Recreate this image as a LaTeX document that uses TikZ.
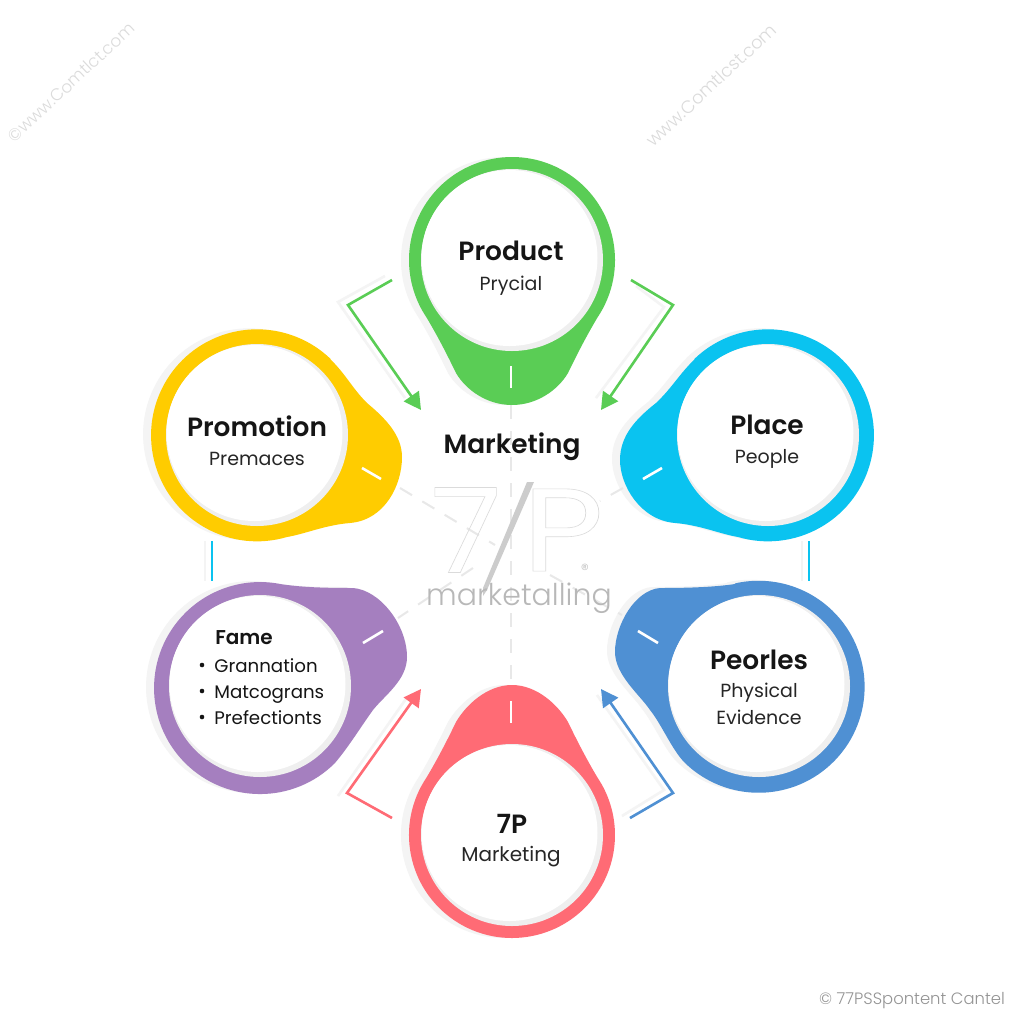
\documentclass[tikz,border=0pt]{standalone}
\usepackage{fontspec}
\setmainfont{Poppins}[BoldFont={Poppins SemiBold}]
\newfontfamily\lightf{Poppins Light}
\usetikzlibrary{arrows.meta}
\definecolor{cgreen}{HTML}{5ACD55}
\definecolor{ccyan}{HTML}{0AC3F0}
\definecolor{cyellow}{HTML}{FFCC00}
\definecolor{cpurple}{HTML}{A57FBF}
\definecolor{cblue}{HTML}{4F90D3}
\definecolor{cred}{HTML}{FF6B75}
\definecolor{halo}{HTML}{F4F4F4}
\definecolor{crescent}{HTML}{EFEFEF}
\definecolor{ink}{HTML}{151515}
\definecolor{sub}{HTML}{262626}
\tikzset{
  title/.style={font=\bfseries\fontsize{13.2}{15}\selectfont,text=ink,inner sep=0pt,anchor=base},
  subt/.style={font=\fontsize{9.5}{11}\selectfont,text=sub,inner sep=0pt,anchor=base},
  item/.style={font=\fontsize{9.1}{11}\selectfont,text=ink,inner sep=0pt,anchor=base west},
  conn/.style={line width=1.3pt,-{Triangle[length=8.5pt,width=9pt]}},
  connhalo/.style={line width=1.3pt,halo},
  dashline/.style={line width=1pt,draw=black!9,dash pattern=on 7pt off 6pt},
  tick/.style={line width=1.3pt,white},
  wm/.style={text=black!14,inner sep=0pt,rotate=43},
  logo/.style={inner sep=0pt,text=black!14,font=\fontsize{59}{59}\selectfont}
}
% symmetric droplet, tip along local +x, tip distance #1
\newcommand{\dropshape}[1]{(57.6,85.4) .. controls (70,78) and (88,68) .. (113,56) .. controls (130,46) and (#1,25) .. (#1,0) .. controls (#1,-25) and (130,-46) .. (113,-56) .. controls (88,-68) and (70,-78) .. (57.6,-85.4) arc[start angle=-56,end angle=-304,radius=103] -- cycle}
\newcommand{\shapeYellow}{(330,359) .. controls (345,373) and (352,388) .. (367,403) .. controls (385,418) and (402,435) .. (402,457) .. controls (402,485) and (385,520) .. (350,523) .. controls (325,525) and (305,534) .. (287,537) arc[start angle=73.6,end angle=314,radius=106] -- cycle}
\newcommand{\shapeCyan}{(695,359) .. controls (680,373) and (672,388) .. (656,403) .. controls (637,418) and (620,435) .. (620,460) .. controls (620,485) and (640,520) .. (675,523) .. controls (700,525) and (720,534) .. (738,537) arc[start angle=106.4,end angle=-134,radius=106] -- cycle}
\newcommand{\shapePurple}{(280,584) .. controls (300,587) and (320,588) .. (353,588) .. controls (380,590) and (407,625) .. (407,657) .. controls (407,680) and (385,695) .. (373,710) .. controls (360,728) and (350,745) .. (335,763) arc[start angle=45,end angle=281,radius=106] -- cycle}
\newcommand{\shapeBlue}{(735,584) .. controls (715,587) and (690,588) .. (660,588) .. controls (635,590) and (615,625) .. (615,652) .. controls (615,675) and (640,695) .. (650,710) .. controls (662,725) and (672,750) .. (685,763) arc[start angle=134,end angle=-103,radius=106] -- cycle}
\newcommand{\eye}[2]{\fill[crescent] (#1,#2) circle[radius=91];\fill[white] (#1-2.5,#2-2) circle[radius=88];}
\begin{document}
\begin{tikzpicture}[x=0.5pt,y=-0.5pt]
\useasboundingbox (0,0) rectangle (1024,1024);
\fill[white] (0,0) rectangle (1024,1024);

% halos
\begin{scope}[shift={(504,260)},rotate=-90]\fill[halo] \dropshape{145};\end{scope}
\begin{scope}[shift={(504,835)},rotate=90]\fill[halo] \dropshape{150};\end{scope}
\begin{scope}[shift={(-8,-1)}]
\fill[halo] \shapeYellow;
\fill[halo] \shapeCyan;
\fill[halo] \shapePurple;
\fill[halo] \shapeBlue;
\end{scope}

% dashes
\coordinate (d0) at (511,405); \coordinate (d1) at (511,685);
\coordinate (d2) at (400,488); \coordinate (d3) at (495,545);
\coordinate (d4) at (473,568); \coordinate (d5) at (398,618);
\coordinate (d6) at (623,488); \coordinate (d7) at (600,501);
\coordinate (d8) at (550,575); \coordinate (d9) at (622,615);
\draw[dashline] (d0) -- (d1);
\draw[dashline] (d2) -- (d3);
\draw[dashline] (d4) -- (d5);
\draw[dashline] (d6) -- (d7);
\draw[dashline] (d8) -- (d9);

% droplets
\begin{scope}[shift={(512,260)},rotate=-90]\fill[cgreen] \dropshape{145};\end{scope}
\begin{scope}[shift={(512,835)},rotate=90]\fill[cred] \dropshape{150};\end{scope}
\fill[cyellow] \shapeYellow;
\fill[ccyan] \shapeCyan;
\fill[cpurple] \shapePurple;
\fill[cblue] \shapeBlue;
\eye{512}{260}
\eye{512}{835}
\eye{257}{435}
\eye{768}{435}
\eye{260}{686}
\eye{759}{686}

% ticks
\coordinate (t1a) at (511,366); \coordinate (t1b) at (511,388);
\coordinate (t2a) at (362,468); \coordinate (t2b) at (381,479);
\coordinate (t3a) at (643,479); \coordinate (t3b) at (662,468);
\coordinate (t4a) at (363,643); \coordinate (t4b) at (383,631);
\coordinate (t5a) at (638,631); \coordinate (t5b) at (658,643);
\coordinate (t6a) at (511,701); \coordinate (t6b) at (511,723);
\foreach \a/\b in {t1a/t1b,t2a/t2b,t3a/t3b,t4a/t4b,t5a/t5b,t6a/t6b} \draw[tick] (\a) -- (\b);

% arrows
\coordinate (a1s) at (392,280); \coordinate (a1m) at (348,305); \coordinate (a1e) at (421,410);
\coordinate (a2s) at (631,280); \coordinate (a2m) at (673,305); \coordinate (a2e) at (601,410);
\coordinate (a3s) at (392,818); \coordinate (a3m) at (347,793); \coordinate (a3e) at (421,689);
\coordinate (a4s) at (630,818); \coordinate (a4m) at (673,793); \coordinate (a4e) at (601,689);
\draw[connhalo] (385,276) -- (338,302) -- (405,398);
\draw[connhalo] (636,286) -- (664,307) -- (596,398);
\draw[connhalo] (338,796) -- (408,696);
\draw[connhalo] (622,816) -- (664,790) -- (597,695);
\draw[conn,cgreen] (a1s) -- (a1m) -- (a1e);
\draw[conn,cgreen] (a2s) -- (a2m) -- (a2e);
\draw[conn,cred] (a3s) -- (a3m) -- (a3e);
\draw[conn,cblue] (a4s) -- (a4m) -- (a4e);

% short bars
\coordinate (b1a) at (212,541); \coordinate (b1b) at (212,581);
\coordinate (b2a) at (809,541); \coordinate (b2b) at (809,581);
\draw[line width=1.4pt,halo] (205,541) -- (205,581);
\draw[line width=1.4pt,halo] (802,541) -- (802,581);
\draw[line width=1.4pt,ccyan] (b1a) -- (b1b);
\draw[line width=1.4pt,ccyan] (b2a) -- (b2b);

% centre logo
\node[logo,xscale=1.1] (seven) at (466,530) {\special{pdf:code 1 Tr 0.3 w}7\special{pdf:code 0 Tr}};
\node[logo,xscale=1.2] (pee) at (563,530) {\special{pdf:code 1 Tr 0.3 w}P\special{pdf:code 0 Tr}};
\fill[black!20] (527,482) -- (534,482) -- (487,590) -- (483,596) -- (483,588) -- cycle;
\node[inner sep=0pt,text=black!28,font=\lightf\fontsize{15}{15}\selectfont] (mk) at (519,598) {marketalling};
\node[inner sep=0pt,text=black!25,font=\lightf\fontsize{8}{8}\selectfont] (reg) at (585,570) {®};

% labels
\node[title] (n1) at (511,260) {Product};
\node[subt] (n2) at (511,290) {Prycial};
\node[title] (n3) at (257,436) {Promotion};
\node[subt] (n4) at (257,465) {Premaces};
\node[title] (n5) at (767,434) {Place};
\node[subt] (n6) at (767,463) {People};
\node[title] (n7) at (512,453) {Marketing};
\node[title,font=\bfseries\fontsize{10}{12}\selectfont] (n8) at (244,644) {Fame};
\node[item] (n9) at (214,672) {Grannation};
\node[item] (n10) at (214,698) {Matcograns};
\node[item] (n11) at (214,724) {Prefectionts};
\foreach \yy in {665,691,717} \fill[ink] (202,\yy) circle[radius=2.3];
\node[title] (n12) at (759,669) {Peorles};
\node[subt] (n13) at (759,697) {Physical};
\node[subt] (n14) at (759,724) {Evidence};
\node[title] (n15) at (512,833) {7P};
\node[subt,font=\fontsize{10}{11}\selectfont] (n16) at (511,861) {Marketing};

% watermarks
\node[wm,font=\lightf\fontsize{8.4}{10}\selectfont] (w1) at (71,82) {©www.Comtlct.com};
\node[wm,font=\lightf\fontsize{8.9}{10}\selectfont] (w2) at (711,85) {www.Comtlcst.com};
\node[inner sep=0pt,text=black!42,font=\lightf\fontsize{8.2}{10}\selectfont] (w3) at (912,1001) {© 77PSSpontent Cantel};
\end{tikzpicture}
\end{document}
